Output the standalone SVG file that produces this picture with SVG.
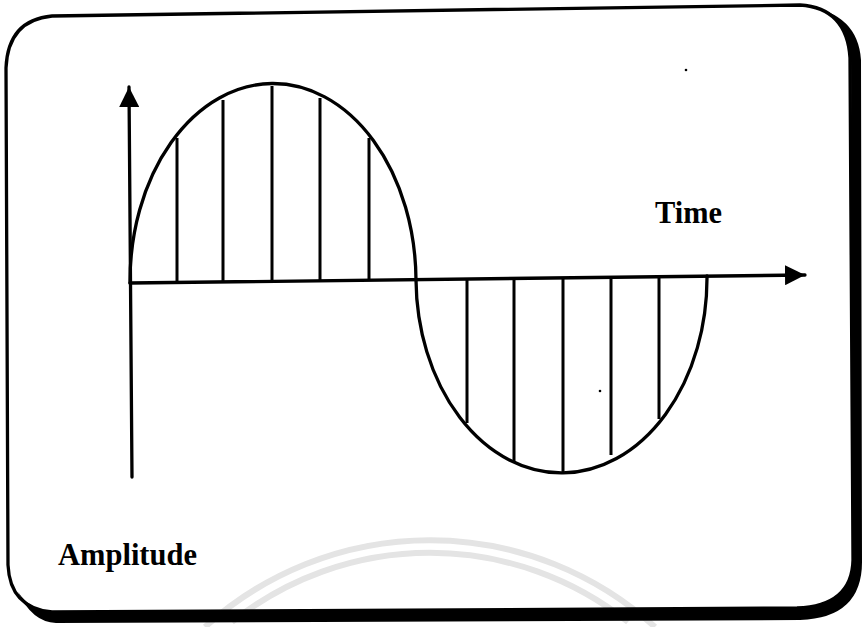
<svg xmlns="http://www.w3.org/2000/svg" width="866" height="627" viewBox="0 0 866 627">
<style>
.ln{fill:none;stroke:#000;stroke-width:3.3;stroke-linecap:round;stroke-linejoin:round}
.smp{fill:none;stroke:#000;stroke-width:3;stroke-linecap:butt}
.wm{fill:none;stroke:#e4e4e4;stroke-width:6}
.lbl{font-family:"Liberation Serif","Times New Roman",serif;font-weight:bold;font-size:32px;fill:#000}
</style>
<defs>
<marker id="ah" viewBox="0 0 20 20" refX="20" refY="10" markerWidth="20" markerHeight="20" markerUnits="userSpaceOnUse" orient="auto">
<path d="M0,0 L20,10 L0,20 Z" fill="#000"/>
</marker>
</defs>
<rect width="866" height="627" fill="#fff"/>
<g id="watermark">
<path class="wm" d="M205,627 A335,335 0 0 1 655,627"/>
<path class="wm" d="M232,622 A318,318 0 0 1 628,622"/>
</g>
<g id="frame">
<path d="M806,6 Q847,10 851,58 L853,560 Q852,606 797,608 L52,612 Q30,610 18,592 Q32,622 56,623 L800,620 Q863,618 862,560 L861,60 Q858,14 806,6 Z" fill="#000"/>
<path class="ln" d="M52,16 L800,5 Q847,8 850,58 L853,560 Q852,606 797,608 L52,612 Q10,608 8,565 L6,68 Q8,20 52,16 Z" stroke-width="2.5"/>
</g>
<g id="connectors">
<path class="ln" d="M132,477 L129,87" marker-end="url(#ah)"/>
<path class="ln" d="M130,283 L805,275" marker-end="url(#ah)"/>
</g>
<g id="wave">
<path class="ln" d="M130,283 A143,198 0 0 1 416,280"/>
<path class="ln" d="M416,280 A145.5,195 0 0 0 707,276"/>
</g>
<g id="samples">
<path class="smp" d="M177,282.4 V138 M223,281.9 V100 M272,281.3 V86 M320,280.7 V98 M369,280.2 V138"/>
<path class="smp" d="M467,279 V423 M514,278.5 V462 M563,277.9 V472 M611,277.3 V455 M659,276.7 V419"/>
</g>
<g id="specks">
<circle cx="686" cy="70" r="1.3" fill="#000"/>
<circle cx="600" cy="391" r="1.3" fill="#000"/>
</g>
<g id="label-time">
<text class="lbl" x="655" y="223" textLength="67" lengthAdjust="spacingAndGlyphs">Time</text>
</g>
<g id="label-amplitude">
<text class="lbl" x="58" y="565" textLength="139" lengthAdjust="spacingAndGlyphs">Amplitude</text>
</g>
</svg>
